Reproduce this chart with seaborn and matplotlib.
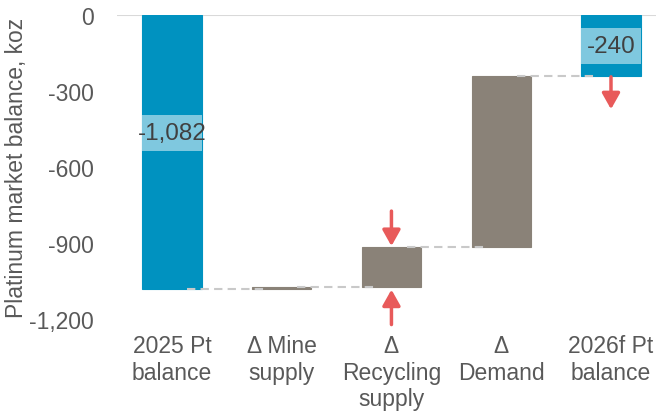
import seaborn as sns
import matplotlib.pyplot as plt
import matplotlib.ticker as mticker

# Waterfall values (koz)
categories = ["2025 Pt\nbalance", "\u0394 Mine\nsupply", "\u0394\nRecycling\nsupply", "\u0394\nDemand", "2026f Pt\nbalance"]
changes = [-1082, 7, 158, 677, -240]
starts = [0, -1082, -1075, -917, 0]
bar_colors = ["#0092C0", "#8A8278", "#8A8278", "#8A8278", "#0092C0"]
yticks = [0, -300, -600, -900, -1200]

sns.set_theme(style="white")
plt.rcParams['font.family'] = ['Liberation Sans', 'DejaVu Sans']
text_grey = "#595959"

fig = plt.figure(figsize=(6.56, 4.14), dpi=100)
ax = fig.add_axes([117 / 656, 1 - 320 / 414, 1 - 117 / 656, (320 - 16) / 414])

sns.barplot(x=categories, y=changes, hue=categories, palette=bar_colors, saturation=1,
            width=0.54, legend=False, dodge=False, ax=ax, zorder=2)
# move each bar to its floating start
for p, s in zip(ax.patches, starts):
    p.set_y(s)
    p.set_edgecolor(p.get_facecolor())
    p.set_linewidth(0.8)

# dashed connectors between bars
levels = [starts[0] + changes[0]]
for s, c in zip(starts[1:4], changes[1:4]):
    levels.append(s + c)
for i, lv in enumerate(levels):
    ax.hlines(lv, i + 0.14, i + 0.86, colors="#C9C9C9", linestyles=(0, (4, 2.5)),
              linewidth=1.5, zorder=3)

# value label boxes
bw = 0.54
ax.bar(0, 142, bottom=-537, width=bw, color="#7FC8DF", linewidth=0, zorder=3)
ax.text(0, -466, "-1,082", ha="center", va="center", fontsize=17.5, color="#404040", zorder=4)
ax.bar(4, 142, bottom=-193, width=bw, color="#7FC8DF", linewidth=0, zorder=3)
ax.text(4, -122, "-240", ha="center", va="center", fontsize=17.5, color="#404040", zorder=4)

# red arrows
red = "#E85A5A"
arrow_kw = dict(arrowstyle="-|>,head_width=0.45,head_length=0.8", color=red, lw=2.5, shrinkA=0, shrinkB=0)
ax.annotate("", xy=(2, -912), xytext=(2, -774), arrowprops=arrow_kw, annotation_clip=False)
ax.annotate("", xy=(2, -1084), xytext=(2, -1222), arrowprops=arrow_kw, annotation_clip=False)
ax.annotate("", xy=(4, -372), xytext=(4, -244), arrowprops=arrow_kw, annotation_clip=False)

ax.axhline(0, color="#D9D9D9", linewidth=1.5, zorder=1)
ax.set_xlim(-0.5, 4.41)
ax.set_ylim(-1200, 0)
ax.set_yticks(yticks)
ax.yaxis.set_major_formatter(mticker.FuncFormatter(lambda v, _: "{:,.0f}".format(v)))
for side in ["top", "right", "bottom", "left"]:
    ax.spines[side].set_visible(False)
ax.tick_params(axis="y", length=0, pad=16.5, labelsize=16.5, labelcolor=text_grey)
ax.tick_params(axis="x", length=0, pad=11, labelsize=16.5, labelcolor=text_grey)
for lab in ax.get_xticklabels():
    lab.set_linespacing(1.2)
ax.set_ylabel("Platinum market balance, koz", fontsize=16.5, color=text_grey, labelpad=1)
ax.set_xlabel("")

fig.savefig("out.png", dpi=100)
